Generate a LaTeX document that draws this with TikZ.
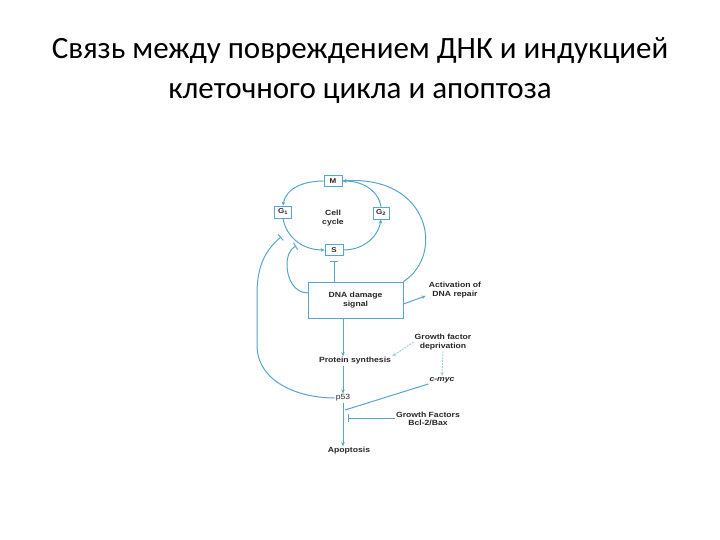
\documentclass[tikz,border=0pt]{standalone}
\usepackage{fontspec}
\setmainfont{Carlito}
\newfontfamily\diagfont[FakeStretch=1.15]{Liberation Sans}
\usetikzlibrary{arrows.meta,calc}
\definecolor{lb}{RGB}{85,165,205}
\begin{document}
\begin{tikzpicture}[x=1pt,y=-1pt,
  lbl/.style={font=\diagfont\bfseries\fontsize{7.5}{8.5}\selectfont, text=black!85, inner sep=1pt, align=center},
  phase/.style={draw=lb, line width=0.8pt, fill=white, minimum width=18pt, minimum height=11pt, inner sep=0pt, font=\diagfont\bfseries\fontsize{7}{7}\selectfont, text=black!85},
  conn/.style={draw=lb, line width=1pt},
  arr/.style={conn, -{Stealth[length=4pt,width=3.5pt]}},
  inh/.style={conn, -{Bar[width=8pt]}},
  soft/.style={draw=lb!55, line width=0.9pt, dash pattern=on 2pt off 1pt, -{Stealth[length=4pt,width=3.5pt]}},
  ttl/.style={font=\fontsize{31}{36}\selectfont, anchor=base, inner sep=0pt}]
\useasboundingbox (0,0) rectangle (720,540);
% title
\node[ttl] (t1) at (360,59) {Связь между повреждением ДНК и индукцией};
\node[ttl] (t2) at (360,99) {клеточного цикла и апоптоза};
% cell cycle
\node[phase] (M) at (333,181) {M};
\node[phase, minimum width=17pt, minimum height=12pt] (G1) at (283,212) {G\textsubscript{1}};
\node[phase, minimum width=16pt, minimum height=12pt] (G2) at (381,213) {G\textsubscript{2}};
\node[phase] (S) at (334,250) {S};
\node[lbl] (cc) at (333,218) {Cell\\cycle};
\draw[arr] (M.west) to[out=180,in=80] (G1.north);
\draw[arr] (G1.south) to[out=-80,in=180] (S.west);
\draw[arr] (S.east) to[out=0,in=-100] (G2.south);
\draw[arr] (G2.north) to[out=100,in=0] (M.east);
% DNA damage box
\node[draw=lb, line width=0.8pt, minimum width=95pt, minimum height=36pt, lbl, inner sep=0pt] (dna) at (355.5,300) {DNA damage\\signal};
\node[lbl] (ps) at (355,361) {Protein synthesis};
\node[lbl, font=\diagfont\fontsize{7.5}{8.5}\selectfont] (p53) at (343,398) {p53};
\node[lbl] (apo) at (349,451) {Apoptosis};
\node[lbl] (adr) at (455,290) {Activation of\\DNA repair};
\node[lbl] (gfd) at (443,342) {Growth factor\\deprivation};
\node[lbl, font=\diagfont\bfseries\itshape\fontsize{7.5}{8.5}\selectfont] (myc) at (442,380) {c-myc};
\node[lbl] (gf) at (428,419) {Growth Factors\\Bcl-2/Bax};
\coordinate (dw) at (308,293);
\coordinate (iend) at (296,246);
\coordinate (oend) at (281,237);
\coordinate (j1) at (345,410);
\coordinate (j2) at (348,418);
% connectors
\draw[inh, shorten >=5pt] (dna.north -| S) -- (S.south);
\draw[inh] (dw) to[out=180,in=-90] (287,265) to[out=90,in=-150] (iend);
\draw[inh] (p53.west) to[out=180,in=-90] (257,345) -- (257,295) to[out=90,in=-140] (oend);
\draw[arr] (dna.north east) .. controls (445,255) and (430,175) .. (M.east);
\draw[arr] ($(dna.east)+(0,4)$) -- ($(adr.west)+(-2,6)$);
\draw[arr] (dna.south -| p53) -- (ps.north -| p53);
\draw[arr] (ps.south -| p53) -- (p53.north);
\draw[arr] (p53.south) -- (apo.north -| p53);
\draw[soft] (gfd.west) -- (ps.north east);
\draw[soft] (gfd.south) -- (myc.north);
\draw[conn] (myc.south west) -- (j1);
\draw[inh] (gf.west |- j2) -- (j2);
\end{tikzpicture}
\end{document}
